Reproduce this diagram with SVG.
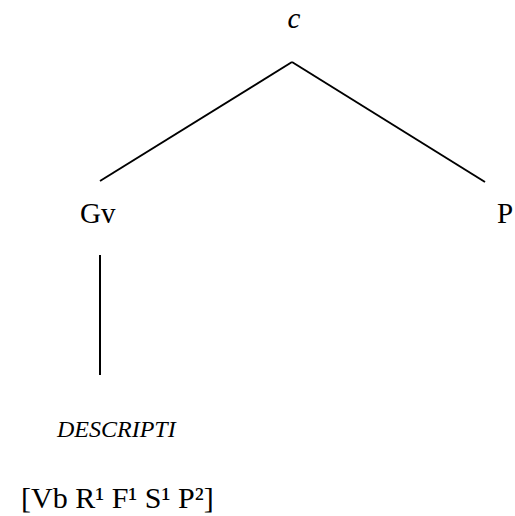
<svg xmlns="http://www.w3.org/2000/svg" width="515" height="516" viewBox="0 0 515 516">
<style>
text{font-family:"Liberation Serif","Times New Roman",serif;fill:#000}
.n{font-size:29px}
.i{font-style:italic}
line{stroke:#000;stroke-width:2;fill:none}
</style>
<rect width="515" height="516" fill="#fff"/>
<g id="connectors">
<line x1="292" y1="62" x2="100" y2="181"/>
<line x1="292" y1="62" x2="485" y2="182"/>
<line x1="100" y1="255" x2="100" y2="375"/>
</g>
<g id="node-c"><text class="n i" x="294" y="28" text-anchor="middle">c</text></g>
<g id="node-gv"><text class="n" x="80" y="223">Gv</text></g>
<g id="node-p"><text class="n" x="497" y="223">P</text></g>
<g id="node-descripti"><text class="i" x="57" y="437" font-size="24">DESCRIPTI</text></g>
<g id="node-formula"><text x="21" y="508" font-size="30">[Vb R¹ F¹ S¹ P²]</text></g>
</svg>
